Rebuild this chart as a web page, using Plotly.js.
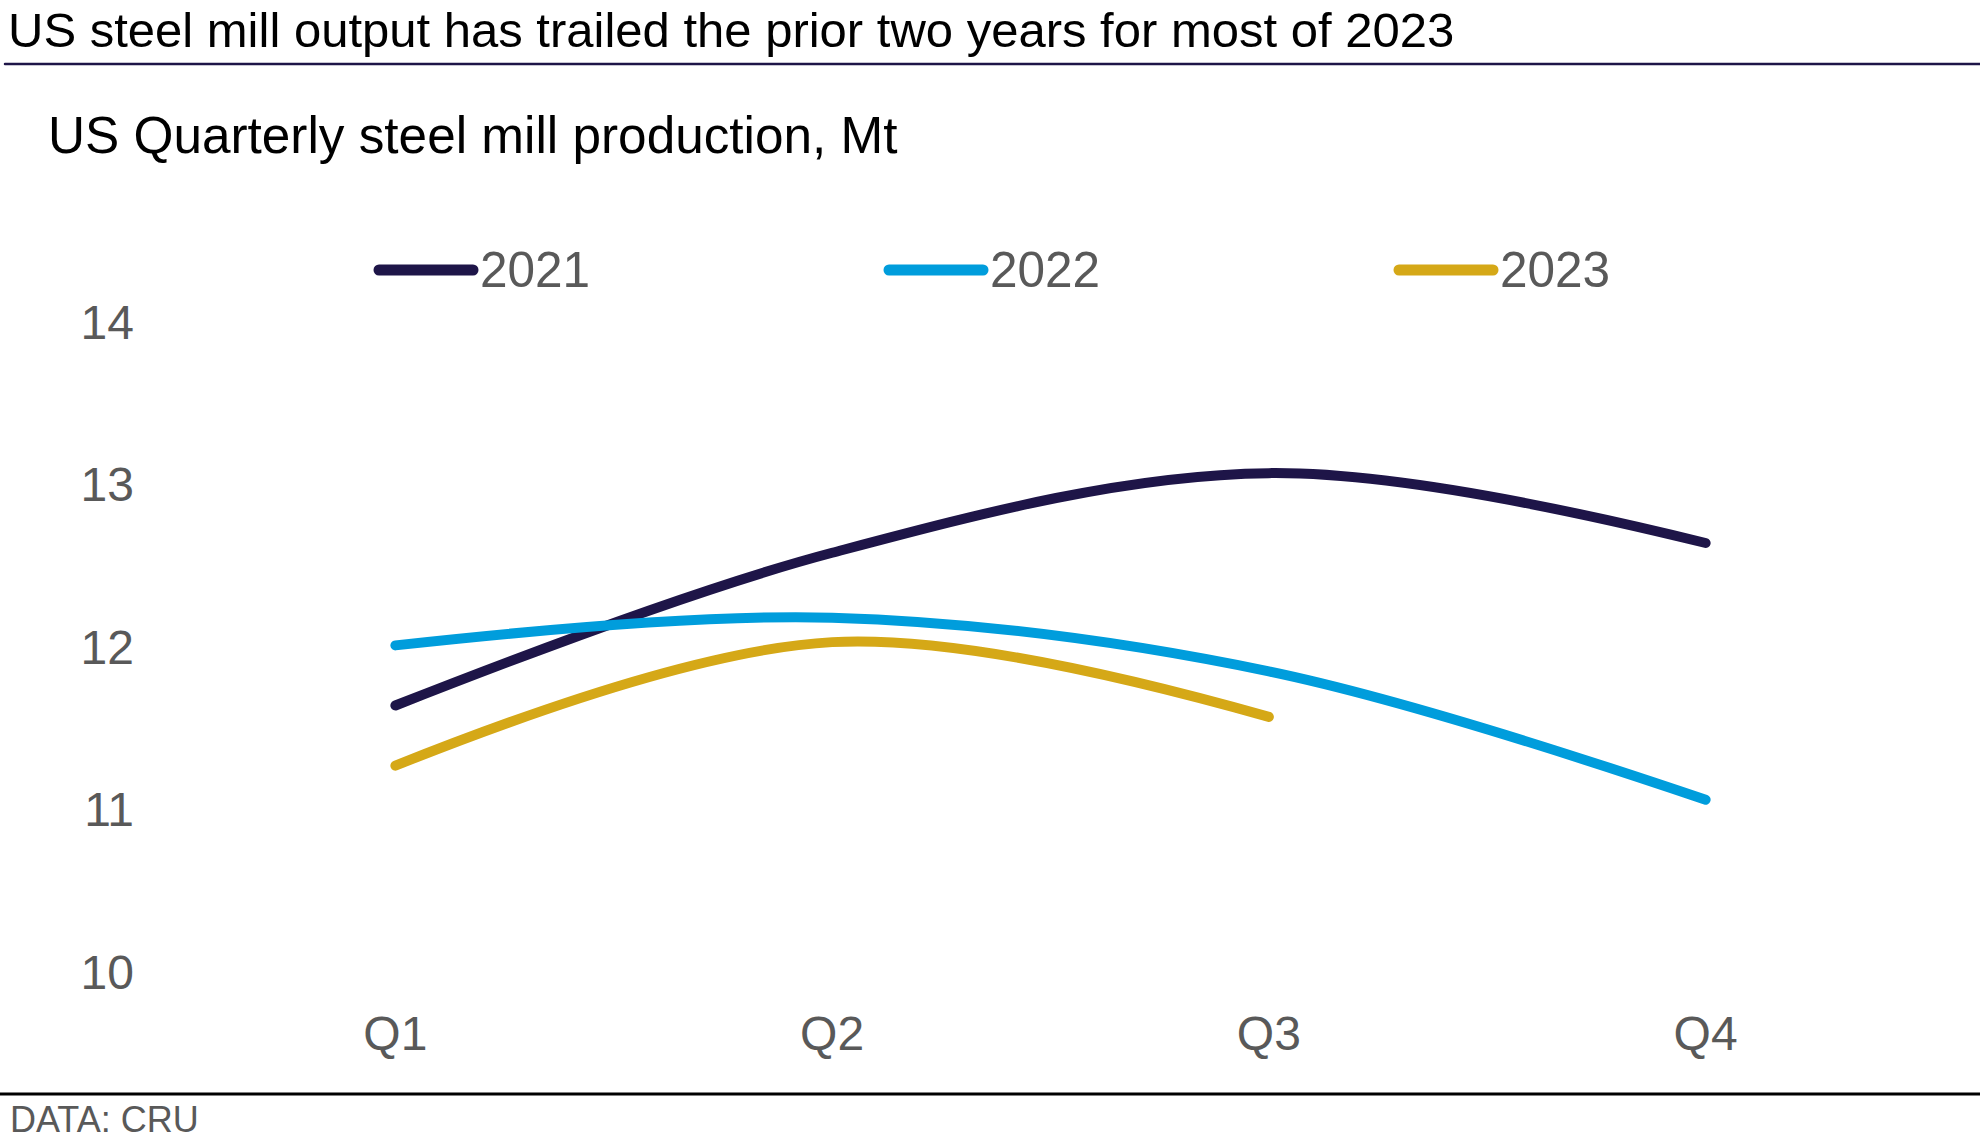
<!DOCTYPE html>
<html>
<head>
<meta charset="utf-8">
<script src="https://cdn.plot.ly/plotly-3.0.1.min.js"></script>
<style>
  html, body { margin: 0; padding: 0; background: #ffffff; }
  #chart { width: 1980px; height: 1142px; }
  .scatterlayer .js-line { stroke-linecap: round; stroke-linejoin: round; }
  .shapelayer path { stroke-linecap: round; }
</style>
</head>
<body>
<div id="chart"></div>
<script>
// ---- data ----
const quarters = ["Q1", "Q2", "Q3", "Q4"];
const years = ["2021", "2022", "2023"];
const values2021 = [11.64, 12.58, 13.07, 12.64];
const values2022 = [12.01, 12.18, 11.85, 11.06];
const values2023 = [11.27, 12.03, 11.57];
const yTicks = [10, 11, 12, 13, 14];
const titleText = "US steel mill output has trailed the prior two years for most of 2023";
const subtitleText = "US Quarterly steel mill production, Mt";
const sourceText = "DATA: CRU";

// ---- styling ----
const colors = ["#1e1548", "#009ddc", "#d5a817"];
const series = [values2021, values2022, values2023];
const FONT = "Liberation Sans, Arial, Helvetica, sans-serif";
const W = 1980, H = 1142;
const M = { l: 177, r: 56, t: 322, b: 170 };
const plotW = W - M.l - M.r, plotH = H - M.t - M.b;
const px = x => (x - M.l) / plotW;          // pixel -> paper x
const py = y => (H - M.b - y) / plotH;      // pixel -> paper y

const traces = series.map((vals, i) => ({
  type: "scatter",
  mode: "lines",
  name: years[i],
  x: quarters.slice(0, vals.length),
  y: vals,
  line: { color: colors[i], width: 10, shape: "spline", smoothing: 1 },
  hoverinfo: "x+y+name"
}));

const shapes = [
  { type: "line", xref: "paper", yref: "paper", x0: px(5), x1: px(1980), y0: py(64), y1: py(64),
    line: { color: "#1e1548", width: 2.5 } },
  { type: "line", xref: "paper", yref: "paper", x0: px(0), x1: px(1980), y0: py(1094), y1: py(1094),
    line: { color: "#000000", width: 3 } }
];
const annotations = [
  { text: titleText, xref: "paper", yref: "paper", x: px(6), y: py(30), xanchor: "left", yanchor: "middle",
    showarrow: false, font: { family: FONT, size: 49, color: "#000000" } },
  { text: subtitleText, xref: "paper", yref: "paper", x: px(46), y: py(136), xanchor: "left", yanchor: "middle",
    showarrow: false, font: { family: FONT, size: 51.3, color: "#000000" } },
  { text: sourceText, xref: "paper", yref: "paper", x: px(8), y: py(1119), xanchor: "left", yanchor: "middle",
    showarrow: false, font: { family: FONT, size: 36, color: "#595959" } }
];
// custom legend (long thick line keys like the reference)
years.forEach((yr, i) => {
  const x0 = 379 + i * 510;
  shapes.push({ type: "line", xref: "paper", yref: "paper", x0: px(x0), x1: px(x0 + 94), y0: py(270), y1: py(270),
    line: { color: colors[i], width: 11 } });
  annotations.push({ text: yr, xref: "paper", yref: "paper", x: px(x0 + 99), y: py(270), xanchor: "left", yanchor: "middle",
    showarrow: false, font: { family: FONT, size: 49.5, color: "#595959" } });
});

const layout = {
  width: W, height: H, autosize: false,
  margin: M,
  paper_bgcolor: "#ffffff", plot_bgcolor: "#ffffff",
  showlegend: false,
  font: { family: FONT, color: "#595959" },
  xaxis: {
    type: "category", categoryorder: "array", categoryarray: quarters,
    range: [-0.5, 3.5], showgrid: false, zeroline: false, showline: false, ticks: "",
    tickfont: { family: FONT, size: 48, color: "#595959" }, ticklabelstandoff: 29, fixedrange: true
  },
  yaxis: {
    range: [10, 14], tickvals: yTicks, ticktext: yTicks.map(String),
    showgrid: false, zeroline: false, showline: false, ticks: "",
    tickfont: { family: FONT, size: 48, color: "#595959" }, ticklabelstandoff: 42, fixedrange: true
  },
  shapes: shapes,
  annotations: annotations
};

Plotly.newPlot("chart", traces, layout, { displayModeBar: false, staticPlot: true });
</script>
</body>
</html>
